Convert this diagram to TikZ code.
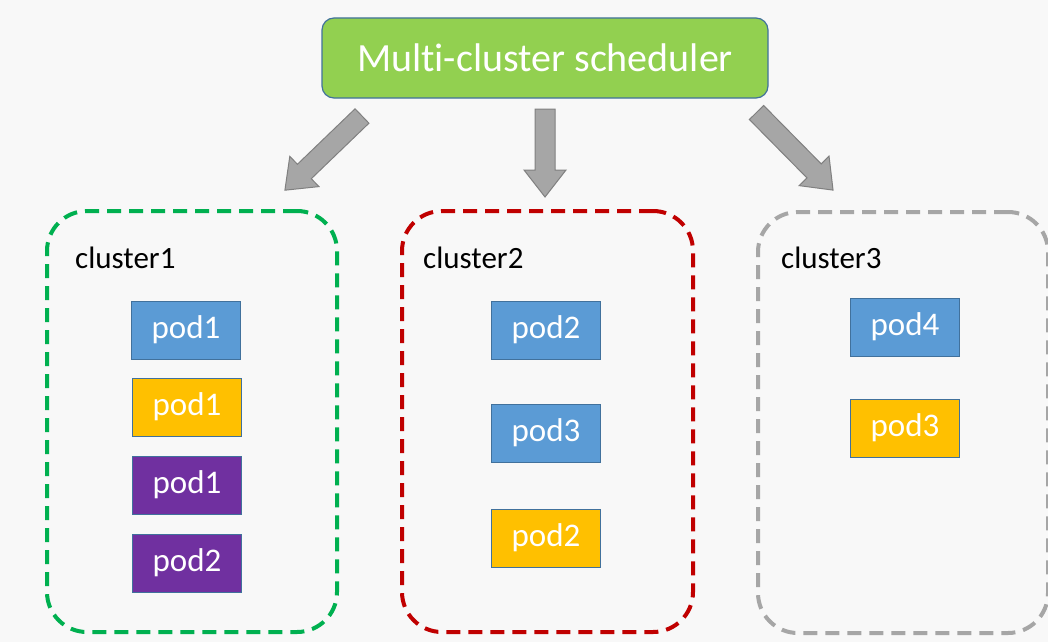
\documentclass[tikz,border=0pt]{standalone}
\usepackage{fontspec}
\setmainfont{Carlito}[Ligatures={NoCommon}]
\definecolor{bgc}{HTML}{F8F8F8}
\definecolor{schedfill}{HTML}{92D050}
\definecolor{schedline}{HTML}{41719C}
\definecolor{podblue}{HTML}{5B9BD5}
\definecolor{podyellow}{HTML}{FFC000}
\definecolor{podpurple}{HTML}{7030A0}
\definecolor{podline}{HTML}{41719C}
\definecolor{cgreen}{HTML}{00B050}
\definecolor{cred}{HTML}{C00000}
\definecolor{cgray}{HTML}{A6A6A6}
\definecolor{arrfill}{HTML}{A6A6A6}
\definecolor{arrline}{HTML}{808080}
\newcommand{\blockarr}[4]{%
  \begin{scope}[shift={(#1,#2)}, rotate=#3]
    \draw[blockarrow] (0,-10) -- (#4-27,-10) -- (#4-27,-21) -- (#4,0) -- (#4-27,21) -- (#4-27,10) -- (0,10) -- cycle;
  \end{scope}}
\begin{document}
\begin{tikzpicture}[x=1pt,y=-1pt,
  sched/.style={draw=schedline, line width=1.2pt, fill=schedfill, rounded corners=12pt,
    text=white, font=\fontsize{40}{48}\selectfont, minimum width=446pt, minimum height=80pt, inner sep=0pt},
  blockarrow/.style={draw=arrline, line width=1pt, fill=arrfill, line join=miter},
  cluster/.style={line width=4pt, dash pattern=on 14pt off 8pt, rounded corners=40pt,
    minimum width=290pt, minimum height=421pt, anchor=north west, inner sep=0pt},
  clabel/.style={font=\fontsize{31}{36}\selectfont, anchor=base west, inner sep=0pt, text=black},
  pod/.style={draw=podline, line width=0.8pt, minimum width=109pt, minimum height=58pt,
    inner sep=0pt, text=white, font=\fontsize{33}{38}\selectfont},
  ]
\useasboundingbox (0,0) rectangle (1048,642);
\fill[bgc] (0,0) rectangle (1048,642);

% scheduler
\node[sched] (sched) at (545,58) {Multi-cluster scheduler};

% arrows
\blockarr{362}{116}{223.9}{107}
\blockarr{545}{109}{270}{88}
\blockarr{756.5}{112.5}{-45.4}{109}

% clusters
\node[cluster, draw=cgreen] (c1) at (45,209) {};
\node[cluster, draw=cred, minimum width=291pt] (c2) at (400,209) {};
\node[cluster, draw=cgray] (c3) at (756,210) {};

\node[clabel] (l1) at (75,268) {cluster1};
\node[clabel] (l2) at (423,268) {cluster2};
\node[clabel] (l3) at (781,268) {cluster3};

% pods cluster1
\node[pod, fill=podblue] (p11) at (186,330) {pod1};
\node[pod, fill=podyellow] (p12) at (187,407) {pod1};
\node[pod, fill=podpurple] (p13) at (187,485) {pod1};
\node[pod, fill=podpurple] (p14) at (187,563) {pod2};

% pods cluster2
\node[pod, fill=podblue] (p21) at (546,330) {pod2};
\node[pod, fill=podblue] (p22) at (546,433) {pod3};
\node[pod, fill=podyellow] (p23) at (546,538) {pod2};

% pods cluster3
\node[pod, fill=podblue] (p31) at (905,327) {pod4};
\node[pod, fill=podyellow] (p32) at (905,428) {pod3};
\end{tikzpicture}
\end{document}
